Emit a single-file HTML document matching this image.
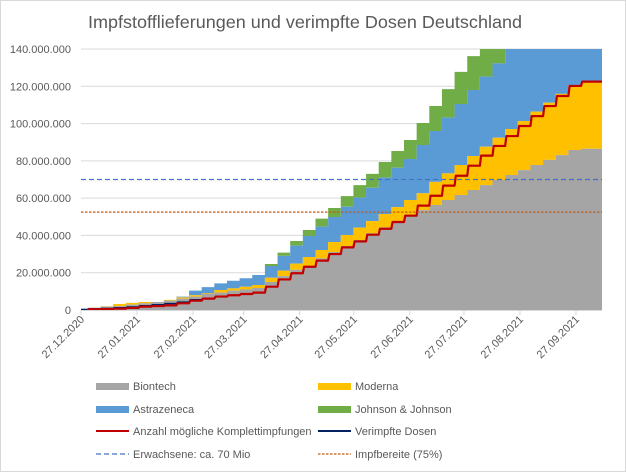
<!DOCTYPE html>
<html><head><meta charset="utf-8"><style>
html,body{margin:0;padding:0;background:#fff}
svg{display:block;font-family:"Liberation Sans",sans-serif}
</style></head><body>
<svg id="chart" width="626" height="472" viewBox="0 0 626 472">
<rect x="0.5" y="0.5" width="625" height="471" fill="#fff" stroke="#d9d9d9"/>
<text x="305" y="28" text-anchor="middle" font-size="17.5" fill="#595959" textLength="434" lengthAdjust="spacingAndGlyphs">Impfstofflieferungen und verimpfte Dosen Deutschland</text>
<defs><clipPath id="pc"><rect x="81" y="49" width="521" height="262"/></clipPath></defs>
<g id="grid"></g>
<g id="stacks" clip-path="url(#pc)"></g>
<g id="lines"></g>
<g id="axes"></g>
<g id="legend"></g>
</svg>
<script>
// stacked cumulative tops (millions) per weekly step
const biontechTop=[0.7,1.3,1.8,2.1,2.9,3.6,4.3,5,6.1,7.2,8.6,9.3,10.4,11,11.8,15,18.2,21.5,23.6,27.7,31.1,34.3,37.5,41.1,44.3,47.4,51,53.6,56.3,59,61.7,64.4,67,69.7,72.4,75,77.8,80.5,83.1,85.8,86.5];
const modernaTop=[0.7,1.3,2.0,3.2,3.8,4.3,4.3,5.4,6.8,7.9,8.9,10.7,11.6,12.5,13.4,17.3,21.1,24.9,28.4,32.2,36.5,40.2,44.2,47.7,51.5,55.2,59,62.6,68.7,73.3,77.8,82.6,87.6,92.4,97.1,101.4,106.4,111.2,115.9,120.7,122];
const astraTop=[0.7,1.3,2.0,3.2,3.8,4.3,4.3,5.4,7.2,10.4,12.3,14.3,15.7,17,18.8,23.6,29,34.5,39.7,44.7,49.9,55.4,60.3,65.6,71,76.3,81,88.5,96,103.2,110.5,118,125.2,132.3,145,150,155,160,165,170,172];
const jjTop=[0.7,1.3,2.0,3.2,3.8,4.3,4.3,5.4,7.2,10.4,12.3,14.3,15.7,17,18.8,24.7,30.8,37,42.9,49,54.7,61.1,67,73,79.4,85.3,91.2,100.3,109.4,118.5,127.7,136.2,145,150,155,160,165,170,175,180,182];
const komplett=[0.2,0.4,0.5,0.7,1.1,1.8,2.1,2.5,3.6,5,6.1,7.2,7.9,8.6,9.3,12.5,16.4,19.7,23.2,26.5,30,33.6,36.8,40.4,43.6,47.2,50.6,56,61.3,66.7,72,77.4,82.8,88,93.3,98.7,104,109.4,114.8,120.2,122.5];
const verimpft=[0.3,0.6,0.8,1.2,1.6,2.3,2.8,3.4,4.2,5.5,6.1,7.2,7.9,8.6,9.3,12.5,16.4,19.7,23.2,26.5,30,33.6,36.8,40.4,43.6,47.2,50.6,56,61.3,66.7,72,77.4,82.8,88,93.3,98.7,104,109.4,114.8,120.2,122.5];
const erwachsene=70, impfbereite=52.5;
const yTicks=[0,20,40,60,80,100,120,140];
const xTickLabels=["27.12.2020","27.01.2021","27.02.2021","27.03.2021","27.04.2021","27.05.2021","27.06.2021","27.07.2021","27.08.2021","27.09.2021"];
const xTickDays=[0,31,62,90,121,151,182,212,243,274];

const NS="http://www.w3.org/2000/svg";
const X0=81,X1=602,Y0=310,PXD=1.8065,PXM=261/140;
const xs=d=>Math.min(X1,Math.max(X0,X0+d*PXD));
const ys=v=>Y0-v*PXM;
const stepX=s=>xs(7*s-3.2);
function mk(tag,attrs,parent){const e=document.createElementNS(NS,tag);for(const k in attrs)e.setAttribute(k,attrs[k]);parent.appendChild(e);return e;}
const grid=document.getElementById('grid'),stacks=document.getElementById('stacks'),lines=document.getElementById('lines'),axes=document.getElementById('axes'),legend=document.getElementById('legend');

yTicks.forEach(t=>{
 if(t>0){const g=mk('line',{x1:X0,x2:X1,y1:ys(t),y2:ys(t),stroke:'#d9d9d9','stroke-width':1},grid);
 
 }
 const lb=mk('text',{x:71,y:ys(t)+4,'text-anchor':'end','font-size':11,fill:'#595959'},axes);
 lb.textContent=t===0?'0':t.toLocaleString('de-DE')+'.000.000';
 
 
});

function area(top,bottom,color,name){
 const n=top.length;let d='';
 for(let s=0;s<n;s++){const xa=stepX(s),xb=s===n-1?X1:stepX(s+1);d+=(s===0?'M':'L')+xa+','+ys(top[s])+'L'+xb+','+ys(top[s]);}
 for(let s=n-1;s>=0;s--){const xa=stepX(s),xb=s===n-1?X1:stepX(s+1);const b=bottom?bottom[s]:0;d+='L'+xb+','+ys(b)+'L'+xa+','+ys(b);}
 const p=mk('path',{d:d+'Z',fill:color},stacks);
 
 
}
area(jjTop,astraTop,'#70ad47','johnson-area');
area(astraTop,modernaTop,'#5b9bd5','astrazeneca-area');
area(modernaTop,biontechTop,'#ffc000','moderna-area');
area(biontechTop,null,'#a5a5a5','biontech-area');

function stepLine(arr,color,w,name,startX){
 let d='';
 for(let s=0;s<arr.length;s++){const xa=Math.max(stepX(s),startX),xb=s===arr.length-1?X1:stepX(s+1);
  d+=(s===0?'M':'L')+(s===0?xa:xa+1.2)+','+ys(arr[s])+'L'+xb+','+ys(arr[s]);}
 const p=mk('path',{d:d,fill:'none',stroke:color,'stroke-width':w,'stroke-linejoin':'round'},lines);
 
 
}
stepLine(verimpft,'#002060',1.5,'verimpfte-dosen-line',81);
stepLine(komplett,'#c00000',2.2,'komplettimpfungen-line',87);

const l1=mk('line',{x1:X0,x2:X1,y1:ys(erwachsene),y2:ys(erwachsene),stroke:'#4472c4','stroke-width':1.2,'stroke-dasharray':'5,3'},lines);


const l2=mk('line',{x1:X0,x2:X1,y1:ys(impfbereite),y2:ys(impfbereite),stroke:'#c55a11','stroke-width':1.2,'stroke-dasharray':'2.5,1.5'},lines);



const ax=mk('line',{x1:X0,x2:X1,y1:Y0+0.5,y2:Y0+0.5,stroke:'#d9d9d9'},axes);


xTickLabels.forEach((t,i)=>{
 const x=xs(xTickDays[i]);
 const tk=mk('line',{x1:x,x2:x,y1:Y0,y2:Y0+5,stroke:'#d9d9d9'},axes);
 
 
 const lb=mk('text',{x:x+4,y:Y0+10,'text-anchor':'end','font-size':11,fill:'#595959',transform:`rotate(-45 ${x+4} ${Y0+10})`},axes);
 lb.textContent=t;
 
 
});

const items=[
 ['Biontech','rect','#a5a5a5',96,386],['Moderna','rect','#ffc000',318,386],
 ['Astrazeneca','rect','#5b9bd5',96,409],['Johnson & Johnson','rect','#70ad47',318,409],
 ['Anzahl mögliche Komplettimpfungen','line','#c00000',96,431],['Verimpfte Dosen','line','#002060',318,431],
 ['Erwachsene: ca. 70 Mio','dash','#4472c4',96,454],['Impfbereite (75%)','dot','#c55a11',318,454]];
items.forEach(it=>{
 const g=mk('g',{},legend);
 
 
 const [lab,type,c,x,y]=it;
 if(type==='rect')mk('rect',{x:x,y:y-3,width:33,height:7,fill:c},g);
 else mk('line',{x1:x,x2:x+33,y1:y,y2:y,stroke:c,'stroke-width':type==='line'?2:1.2,'stroke-dasharray':type==='dash'?'5,3':type==='dot'?'2.5,1.5':'none'},g);
 const t=mk('text',{x:x+37,y:y+4,'font-size':11,fill:'#595959'},g);
 t.textContent=lab;
});
</script>
</body></html>
